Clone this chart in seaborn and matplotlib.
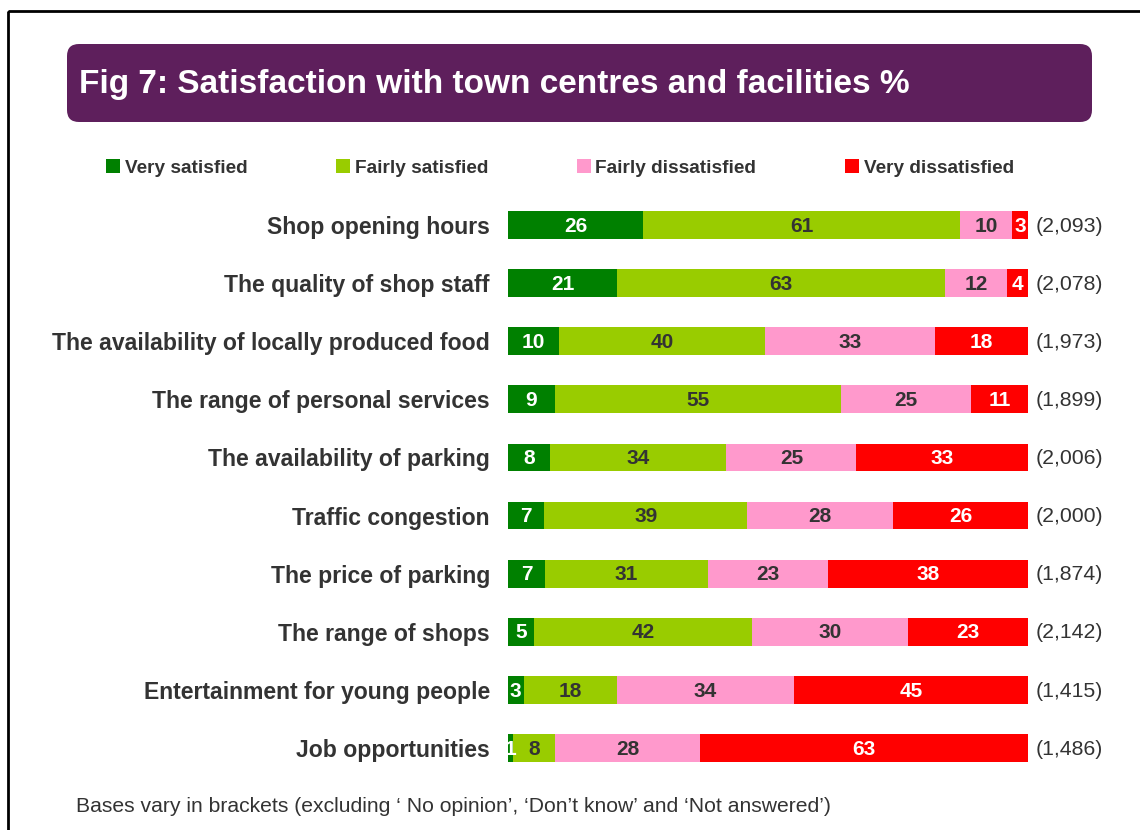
import numpy as np
import pandas as pd
import matplotlib
matplotlib.use("Agg")
import matplotlib.pyplot as plt
from matplotlib.patches import FancyBboxPatch, Rectangle, Patch
import seaborn as sns

# Daten
kategorien = ["Shop opening hours", "The quality of shop staff",
              "The availability of locally produced food", "The range of personal services",
              "The availability of parking", "Traffic congestion", "The price of parking",
              "The range of shops", "Entertainment for young people", "Job opportunities"]
very_satisfied = [26, 21, 10, 9, 8, 7, 7, 5, 3, 1]
fairly_satisfied = [61, 63, 40, 55, 34, 39, 31, 42, 18, 8]
fairly_dissatisfied = [10, 12, 33, 25, 25, 28, 23, 30, 34, 28]
very_dissatisfied = [3, 4, 18, 11, 33, 26, 38, 23, 45, 63]
bases = ["(2,093)", "(2,078)", "(1,973)", "(1,899)", "(2,006)",
         "(2,000)", "(1,874)", "(2,142)", "(1,415)", "(1,486)"]
serien = ["Very satisfied", "Fairly satisfied", "Fairly dissatisfied", "Very dissatisfied"]

farben = ["#008000", "#99CC00", "#FF99CC", "#FF0000"]
textfarben = ["white", "#333333", "#333333", "white"]
grau = "#333333"
lila = "#5E1F5C"

sns.set_style("white")
plt.rcParams["font.family"] = ["Liberation Sans", "DejaVu Sans"]

df = pd.DataFrame({"kategorie": kategorien,
                   serien[0]: very_satisfied, serien[1]: fairly_satisfied,
                   serien[2]: fairly_dissatisfied, serien[3]: very_dissatisfied})

# auf 100 % normieren (Rundungsdifferenzen)
summe = df[serien].sum(axis=1)
anteile = df[serien].div(summe, axis=0) * 100
kumuliert = anteile.cumsum(axis=1)

fig = plt.figure(figsize=(11.4, 8.3), dpi=100)

# Hintergrund-Achse in Pixelkoordinaten (Rahmen, Titelbox, Texte)
bg = fig.add_axes([0, 0, 1, 1], zorder=0)
bg.set_xlim(0, 1140)
bg.set_ylim(830, 0)
bg.axis("off")
bg.add_patch(Rectangle((8, 11), 1200, 900, fill=False, edgecolor="black", linewidth=2))
bg.add_patch(FancyBboxPatch((67, 44), 1025, 78, boxstyle="round,pad=0,rounding_size=12",
                            facecolor=lila, edgecolor="none"))
bg.text(79, 85, "Fig 7: Satisfaction with town centres and facilities %", color="white",
        fontsize=24, fontweight="bold", va="center", ha="left")
bg.text(76, 806, "Bases vary in brackets (excluding \u2018 No opinion\u2019, \u2018Don\u2019t know\u2019 and \u2018Not answered\u2019)",
        color=grau, fontsize=15.2, va="center", ha="left")

# Balken (gestapelt: von der groessten Summe zur kleinsten ueberlagern)
ax = fig.add_axes([508 / 1140, 1 - 777 / 830, 520 / 1140, 581 / 830], zorder=1)
ax.patch.set_alpha(0)
for i in reversed(range(len(serien))):
    sns.barplot(x=kumuliert[serien[i]], y=df["kategorie"], orient="h", color=farben[i],
                saturation=1, width=0.48, linewidth=0, ax=ax)

# Werte in die Segmente schreiben
for i, s in enumerate(serien):
    for j in range(len(df)):
        mitte = kumuliert[s][j] - anteile[s][j] / 2
        ax.text(mitte, j + 0.02, str(df[s][j]), color=textfarben[i], fontsize=15,
                fontweight="bold", ha="center", va="center")

# Basen rechts daneben
for j, b in enumerate(bases):
    ax.text(101.4, j + 0.02, b, color=grau, fontsize=15.3, ha="left", va="center")

ax.set_xlim(0, 100)
ax.set_xlabel("")
ax.set_ylabel("")
ax.set_xticks([])
ax.tick_params(axis="y", length=0, pad=13, labelsize=16.6, labelcolor=grau)
for lab in ax.get_yticklabels():
    lab.set_fontweight("bold")
sns.despine(ax=ax, left=True, bottom=True)

# Legende
griffe = [Patch(facecolor=f, edgecolor="none") for f in farben]
fig.legend(griffe, serien, loc="center left", bbox_to_anchor=(106 / 1140, 1 - 168 / 830),
           ncol=4, frameon=False, borderpad=0, borderaxespad=0,
           handlelength=0.74, handleheight=0.74, handletextpad=0.25, columnspacing=4.65,
           prop={"weight": "bold", "size": 13.7}, labelcolor=grau)

plt.savefig("out.png", dpi=100)
